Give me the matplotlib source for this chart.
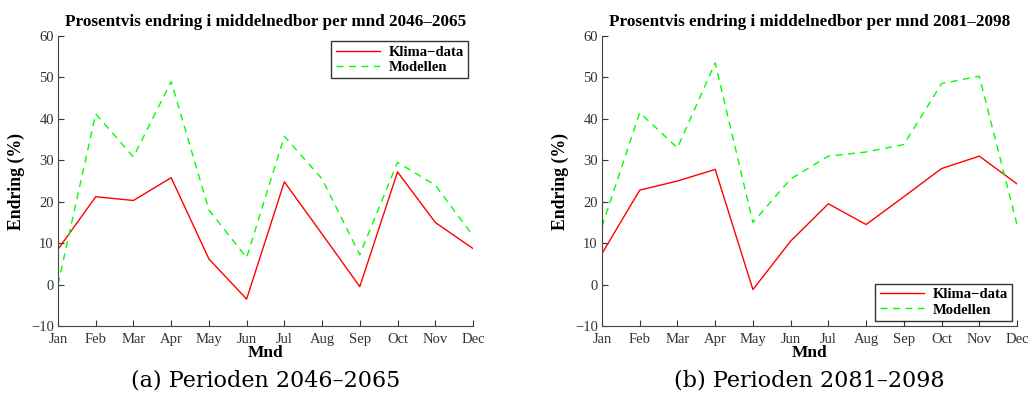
import numpy as np
import matplotlib.pyplot as plt

# monthly change in mean precipitation (%)
months = ["Jan", "Feb", "Mar", "Apr", "May", "Jun",
          "Jul", "Aug", "Sep", "Oct", "Nov", "Dec"]

klima_2046 = [8.5, 21.2, 20.3, 25.8, 6.2, -3.5, 24.8, 12.2, -0.5, 27.2, 15.0, 8.7]
modell_2046 = [0.0, 41.2, 30.8, 49.0, 18.0, 6.5, 35.8, 25.5, 7.2, 29.5, 24.0, 11.8]

klima_2081 = [7.5, 22.8, 25.0, 27.8, -1.2, 10.5, 19.5, 14.5, 21.2, 28.0, 31.0, 24.3]
modell_2081 = [14.0, 41.5, 33.0, 53.5, 15.0, 25.5, 31.0, 32.0, 33.8, 48.5, 50.3, 14.5]

plt.rcParams["font.family"] = ["Liberation Serif", "DejaVu Serif"]

fig = plt.figure(figsize=(10.28, 4.03), dpi=100)

panels = [
    (0.0564, klima_2046, modell_2046, "2046\u20132065", "upper right", "(a) Perioden 2046\u20132065"),
    (0.5856, klima_2081, modell_2081, "2081\u20132098", "lower right", "(b) Perioden 2081\u20132098"),
]

x = np.arange(len(months))
for left, klima, modell, per, loc, caption in panels:
    ax = fig.add_axes([left, 0.191, 0.4037, 0.7197])
    ax.plot(x, klima, color="#ff0000", lw=1.0, label="Klima\u2212data")
    ax.plot(x, modell, color="#00ff00", lw=1.0, ls=(0, (5, 4)), label="Modellen")
    ax.set_xlim(0, 11)
    ax.set_ylim(-10, 60)
    ax.set_xticks(x)
    ax.set_xticklabels(months)
    ax.set_yticks(range(-10, 61, 10))
    ax.set_yticklabels([("\u2212" + str(-v)) if v < 0 else str(v) for v in range(-10, 61, 10)])
    ax.tick_params(direction="in", length=4, labelsize=10.5, colors="#333333")
    ax.tick_params(axis="x", pad=5)
    ax.tick_params(axis="y", pad=3)
    for s in ["top", "right"]:
        ax.spines[s].set_visible(False)
    for s in ["left", "bottom"]:
        ax.spines[s].set_color("#444444")
    ax.set_title("Prosentvis endring i middelnedbor per mnd " + per,
                 fontsize=12.3, fontweight="bold", pad=7)
    ax.set_xlabel("Mnd", fontsize=12.5, fontweight="bold", labelpad=-1)
    ax.set_ylabel("Endring (%)", fontsize=12.8, fontweight="bold", labelpad=4)
    leg = ax.legend(loc=loc, fancybox=False, edgecolor="black",
                    prop={"weight": "bold", "size": 10.5}, borderaxespad=0.35,
                    handlelength=3.0, labelspacing=0.15, borderpad=0.3,
                    handletextpad=0.6)
    leg.get_frame().set_linewidth(1.0)
    fig.text(left + 0.2018, 0.055, caption, ha="center", va="center",
             fontsize=16, family=["DejaVu Serif"])

fig.savefig("out.png", dpi=100)
